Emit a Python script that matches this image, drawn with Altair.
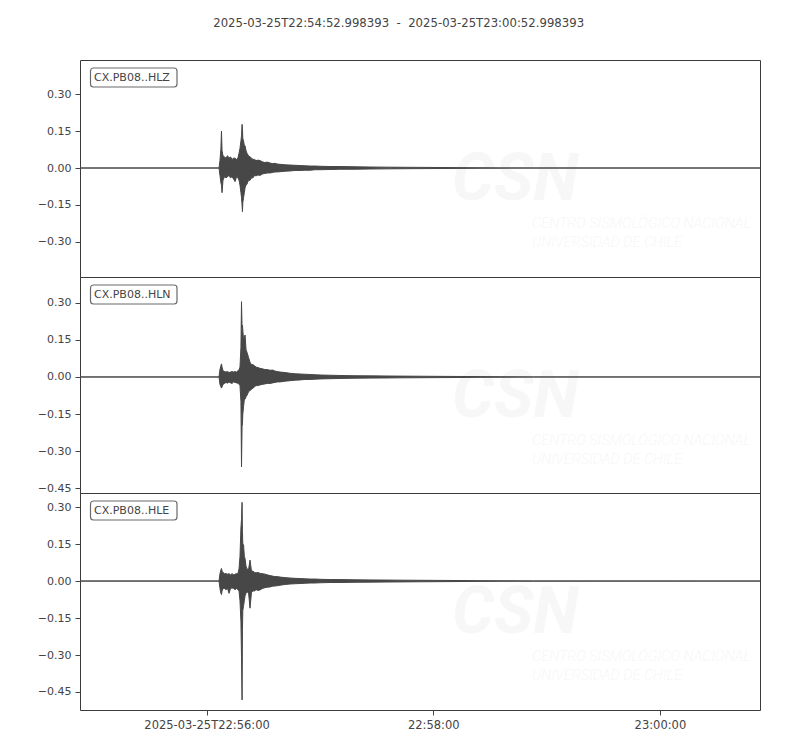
import altair as alt
import pandas as pd

NB = "\u00a0"
title_text = "2025-03-25T22:54:52.998393" + NB * 2 + "-" + NB * 2 + "2025-03-25T23:00:52.998393"
channels = ["CX.PB08..HLZ", "CX.PB08..HLN", "CX.PB08..HLE"]

# seconds after 2025-03-25T22:54:52.998393
t_sec = [0, 73.6, 74.1, 74.6, 74.9, 75.2, 75.7, 76.5, 77.3, 78.1, 78.9, 79.7, 80.5, 81.3,
         82.1, 82.9, 83.6, 84.2, 84.7, 85.2, 85.5, 85.8, 86.0, 86.2, 86.6, 87.0, 87.4,
         87.9, 88.4, 89.2, 90.0, 90.8, 91.6, 92.4, 93.2, 94.2, 95.3, 96.6, 97.9, 99.2,
         100.6, 102.0, 103.2, 104.5, 105.9, 108.5, 111.2, 113.8, 116.5, 119.1, 121.8,
         124.4, 127.1, 132.4, 137.6, 145.6, 153.5, 161.5, 169.4, 180.0, 190.6, 201.2,
         211.8, 222.4, 240.0, 360.0]

hlz_max = [0, 0, 0.03, 0.08, 0.15, 0.07, 0.05, 0.045, 0.04, 0.05, 0.04, 0.045, 0.035, 0.04,
           0.04, 0.035, 0.04, 0.06, 0.08, 0.11, 0.13, 0.177, 0.16, 0.12, 0.11, 0.09, 0.09,
           0.07, 0.06, 0.05, 0.045, 0.04, 0.035, 0.035, 0.03, 0.032, 0.03, 0.025, 0.022,
           0.024, 0.02, 0.018, 0.019, 0.016, 0.015, 0.013, 0.012, 0.011, 0.01, 0.009,
           0.008, 0.008, 0.007, 0.006, 0.006, 0.005, 0.004, 0.0035, 0.003, 0.0025, 0.002,
           0.0015, 0.001, 0.0005, 0, 0]
hlz_min = [0, 0, -0.03, -0.06, -0.07, -0.10, -0.05, -0.035, -0.04, -0.035, -0.03, -0.04,
           -0.035, -0.045, -0.055, -0.035, -0.04, -0.05, -0.07, -0.10, -0.12, -0.15, -0.177,
           -0.14, -0.12, -0.10, -0.08, -0.07, -0.065, -0.05, -0.05, -0.04, -0.04, -0.03,
           -0.032, -0.028, -0.03, -0.024, -0.022, -0.02, -0.02, -0.018, -0.016, -0.016,
           -0.015, -0.013, -0.012, -0.01, -0.01, -0.009, -0.009, -0.007, -0.007, -0.006,
           -0.005, -0.005, -0.004, -0.0035, -0.003, -0.0025, -0.002, -0.0015, -0.001,
           -0.0005, 0, 0]

hln_max = [0, 0, 0.03, 0.045, 0.053, 0.04, 0.025, 0.022, 0.02, 0.022, 0.018, 0.02, 0.022,
           0.02, 0.022, 0.02, 0.025, 0.03, 0.04, 0.12, 0.305, 0.20, 0.21, 0.19, 0.15, 0.16,
           0.17, 0.11, 0.10, 0.08, 0.06, 0.05, 0.05, 0.045, 0.04, 0.038, 0.035, 0.033, 0.03,
           0.03, 0.027, 0.028, 0.024, 0.022, 0.02, 0.018, 0.015, 0.013, 0.012, 0.011, 0.01,
           0.009, 0.008, 0.007, 0.006, 0.005, 0.0045, 0.004, 0.0035, 0.003, 0.0025, 0.002,
           0.0015, 0.001, 0, 0]
hln_min = [0, 0, -0.03, -0.04, -0.045, -0.04, -0.03, -0.026, -0.022, -0.025, -0.02, -0.024,
           -0.026, -0.02, -0.022, -0.024, -0.025, -0.03, -0.035, -0.10, -0.364, -0.20, -0.19,
           -0.15, -0.12, -0.09, -0.09, -0.08, -0.075, -0.06, -0.055, -0.05, -0.045, -0.04,
           -0.035, -0.035, -0.032, -0.03, -0.028, -0.026, -0.026, -0.024, -0.022, -0.02,
           -0.02, -0.017, -0.015, -0.013, -0.012, -0.01, -0.01, -0.009, -0.008, -0.007,
           -0.006, -0.005, -0.0045, -0.004, -0.0035, -0.003, -0.0025, -0.002, -0.0015,
           -0.001, 0, 0]

hle_max = [0, 0, 0.03, 0.045, 0.051, 0.04, 0.035, 0.03, 0.03, 0.028, 0.03, 0.025, 0.03,
           0.025, 0.028, 0.03, 0.03, 0.05, 0.10, 0.215, 0.25, 0.319, 0.20, 0.15, 0.146, 0.10,
           0.09, 0.06, 0.05, 0.045, 0.085, 0.04, 0.04, 0.035, 0.033, 0.035, 0.031, 0.03,
           0.028, 0.025, 0.022, 0.02, 0.018, 0.018, 0.016, 0.014, 0.012, 0.011, 0.01, 0.009,
           0.008, 0.008, 0.007, 0.006, 0.006, 0.005, 0.0045, 0.004, 0.0035, 0.003, 0.0025,
           0.002, 0.0015, 0.001, 0.0005, 0]
hle_min = [0, 0, -0.03, -0.05, -0.055, -0.04, -0.03, -0.03, -0.035, -0.03, -0.05, -0.03,
           -0.028, -0.03, -0.035, -0.03, -0.035, -0.04, -0.08, -0.165, -0.307, -0.482, -0.20,
           -0.12, -0.10, -0.08, -0.06, -0.05, -0.045, -0.045, -0.11, -0.045, -0.04, -0.04,
           -0.035, -0.038, -0.036, -0.03, -0.027, -0.025, -0.024, -0.021, -0.02, -0.019,
           -0.017, -0.014, -0.012, -0.011, -0.01, -0.009, -0.008, -0.008, -0.007, -0.006,
           -0.006, -0.005, -0.0045, -0.004, -0.0035, -0.003, -0.0025, -0.002, -0.0015,
           -0.001, -0.0005, 0]

y_domains = [[-0.442, 0.438], [-0.470, 0.405], [-0.523, 0.357]]
y_ticks = [[-0.30, -0.15, 0.0, 0.15, 0.30],
           [-0.45, -0.30, -0.15, 0.0, 0.15, 0.30],
           [-0.45, -0.30, -0.15, 0.0, 0.15, 0.30]]
x_tick_values = [67.001607, 187.001607, 307.001607]
x_tick_labels = ["2025-03-25T22:56:00", "22:58:00", "23:00:00"]

maxes = [hlz_max, hln_max, hle_max]
mins = [hlz_min, hln_min, hle_min]

TRACE = "#474747"
TXT = "#444444"
WM = "#f7f7f7"
FONT = "DejaVu Sans"

label_expr = "datum.value < 100 ? '%s' : (datum.value < 200 ? '%s' : '%s')" % tuple(x_tick_labels)

panel_heights = [217, 216, 217]


def panel(i, show_x):
    df = pd.DataFrame({"t": t_sec, "up": maxes[i], "lo": mins[i]})
    if show_x:
        xaxis = alt.Axis(values=x_tick_values, labelExpr=label_expr, grid=False,
                         domain=False, ticks=True, tickSize=5, tickColor=TXT,
                         labelColor=TXT, labelFont=FONT, labelFontSize=11.5,
                         labelPadding=4, title=None, labelOverlap=False)
    else:
        xaxis = None
    area = alt.Chart(df).mark_area(color=TRACE, stroke=TRACE, strokeWidth=1,
                                   opacity=1).encode(
        x=alt.X("t:Q", scale=alt.Scale(domain=[0, 360], nice=False, zero=False), axis=xaxis),
        y=alt.Y("up:Q", scale=alt.Scale(domain=y_domains[i], nice=False, zero=False),
                axis=alt.Axis(values=y_ticks[i], format=".2f", grid=False, domain=False,
                              tickSize=5, tickColor=TXT, labelColor=TXT, labelFont=FONT,
                              labelFontSize=11, labelPadding=4, title=None)),
        y2="lo:Q",
    )
    lab = pd.DataFrame({"label": [channels[i]]})
    box = alt.Chart(lab).mark_rect(cornerRadius=3, fill="white", stroke="#6a6a6a",
                                   strokeWidth=1.2).encode(
        x=alt.value(10.5), x2=alt.value(97), y=alt.value(8), y2=alt.value(27))
    txt = alt.Chart(lab).mark_text(align="left", baseline="middle", font=FONT,
                                   fontSize=11, color=TXT).encode(
        x=alt.value(14), y=alt.value(17.5), text="label:N")
    wm1 = alt.Chart(pd.DataFrame({"w": ["CSN"]})).mark_text(
        align="left", baseline="middle", font="Roboto", fontSize=66, fontWeight="bold",
        fontStyle="italic", color=WM).encode(x=alt.value(372), y=alt.value(120), text="w:N")
    wm2 = alt.Chart(pd.DataFrame({"w": ["CENTRO SISMOLÓGICO NACIONAL"]})).mark_text(
        align="left", baseline="middle", font="Roboto", fontSize=14.5, fontWeight=300,
        fontStyle="italic", color=WM).encode(x=alt.value(452), y=alt.value(164), text="w:N")
    wm3 = alt.Chart(pd.DataFrame({"w": ["UNIVERSIDAD DE CHILE"]})).mark_text(
        align="left", baseline="middle", font="Roboto", fontSize=14.5, fontWeight=300,
        fontStyle="italic", color=WM).encode(x=alt.value(452), y=alt.value(183), text="w:N")
    return alt.layer(wm1, wm2, wm3, area, box, txt).properties(
        width=680, height=panel_heights[i])


chart = alt.vconcat(panel(0, False), panel(1, False), panel(2, True), spacing=0,
                    bounds="flush").properties(
    title=alt.TitleParams(title_text, font=FONT, fontSize=11.7, fontWeight="normal",
                          color=TXT, anchor="middle", dx=-1, offset=30),
    padding={"left": 28, "top": 9, "right": 10, "bottom": 10},
    background="white",
).configure_view(stroke="#3a3a3a", strokeWidth=1)

chart.save("out.html", embed_options={"renderer": "svg", "actions": False})
